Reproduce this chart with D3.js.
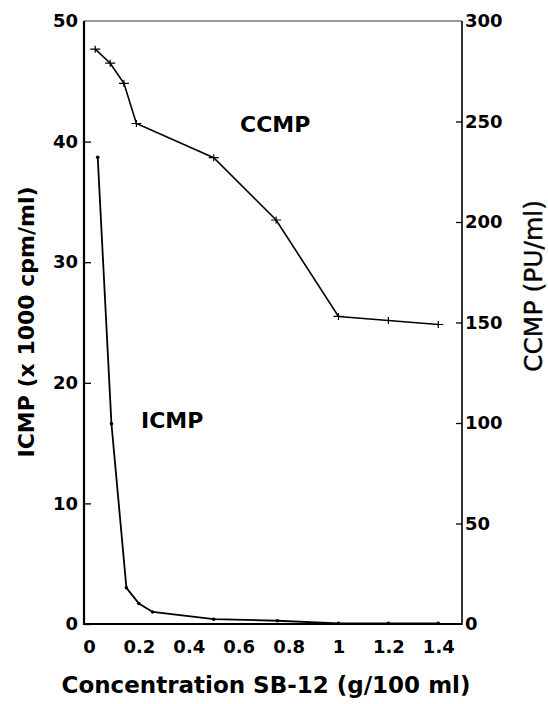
<!DOCTYPE html>
<html><head><meta charset="utf-8">
<script src="https://cdn.jsdelivr.net/npm/d3@7"></script>
<style>
html,body{margin:0;padding:0;background:#fff;}
svg text{font-family:'DejaVu Sans',sans-serif;font-weight:bold;fill:#000;}
</style></head>
<body><svg id="c" width="548" height="704"></svg>
<script>
// Data
const concCCMP = [0.025, 0.085, 0.14, 0.19, 0.5, 0.75, 1.0, 1.2, 1.4];
const ccmpValues = [286, 279, 269, 249, 232, 201, 153, 151, 149];
const concICMP = [0.035, 0.09, 0.15, 0.2, 0.255, 0.5, 0.755, 1.0, 1.2, 1.4];
const icmpValues = [38.7, 16.6, 3.0, 1.7, 1.0, 0.4, 0.27, 0.06, 0.06, 0.06];
const xTicks = [0, 0.2, 0.4, 0.6, 0.8, 1, 1.2, 1.4];
const leftTicks = [0, 10, 20, 30, 40, 50];
const rightTicks = [0, 50, 100, 150, 200, 250, 300];

const svg = d3.select('#c');
const L = 84, R = 462, T = 21, B = 624;
const x = d3.scaleLinear().domain([-0.02, 1.495]).range([L, R]);
const yL = d3.scaleLinear().domain([0, 50]).range([B, T]);
const yR = d3.scaleLinear().domain([0, 300]).range([B, T]);

// Axes
const gl = svg.append('g').attr('transform', `translate(${L},0)`)
  .call(d3.axisLeft(yL).tickValues(leftTicks).tickFormat(d3.format('d'))
    .tickSizeInner(-7).tickSizeOuter(0).tickPadding(6));
const gr = svg.append('g').attr('transform', `translate(${R},0)`)
  .call(d3.axisRight(yR).tickValues(rightTicks).tickFormat(d3.format('d'))
    .tickSizeInner(-6).tickSizeOuter(0).tickPadding(3));
const gb = svg.append('g').attr('transform', `translate(0,${B})`)
  .call(d3.axisBottom(x).tickValues(xTicks).tickFormat(d => d3.format('')(+d.toFixed(1)))
    .tickSize(0).tickPadding(16));
[gl, gr, gb].forEach(g => {
  g.select('.domain').remove();
  g.selectAll('text').attr('font-size', 18).attr('font-family', "'DejaVu Sans',sans-serif").attr('font-weight', 'bold');
  g.selectAll('line').attr('stroke', '#000').attr('stroke-width', 1.3);
});
gl.selectAll('.tick').filter(d => d === 50).select('line').remove();
gr.selectAll('.tick').filter(d => d === 300 || d === 0).select('line').remove();

// Frame
svg.append('line').attr('x1', L).attr('x2', L).attr('y1', T).attr('y2', B + 1).attr('stroke', '#000').attr('stroke-width', 2.2);
svg.append('line').attr('x1', L).attr('x2', R).attr('y1', B).attr('y2', B).attr('stroke', '#000').attr('stroke-width', 2);
svg.append('line').attr('x1', R).attr('x2', R).attr('y1', T).attr('y2', B + 1).attr('stroke', '#000').attr('stroke-width', 1.6);
svg.append('line').attr('x1', L).attr('x2', R).attr('y1', T).attr('y2', T).attr('stroke', '#333').attr('stroke-width', 1.2);

// CCMP curve (right axis)
const ccmp = concCCMP.map((c, i) => [c, ccmpValues[i]]);
svg.append('path').datum(ccmp)
  .attr('d', d3.line().x(d => x(d[0])).y(d => yR(d[1])))
  .attr('fill', 'none').attr('stroke', '#000').attr('stroke-width', 1.6);
svg.append('g').selectAll('path').data(ccmp).join('path')
  .attr('d', d => {
    const cx = x(d[0]), cy = yR(d[1]);
    return `M${cx - 5},${cy}H${cx + 5}M${cx},${cy - 3.5}V${cy + 3.5}`;
  })
  .attr('stroke', '#000').attr('stroke-width', 1.2);

// ICMP curve (left axis)
const icmp = concICMP.map((c, i) => [c, icmpValues[i]]);
svg.append('path').datum(icmp)
  .attr('d', d3.line().x(d => x(d[0])).y(d => yL(d[1])))
  .attr('fill', 'none').attr('stroke', '#000').attr('stroke-width', 1.8);
svg.append('g').selectAll('circle').data(icmp).join('circle')
  .attr('cx', d => x(d[0])).attr('cy', d => yL(d[1])).attr('r', 1.8).attr('fill', '#000');

// In-plot labels
svg.append('text').attr('x', 240).attr('y', 132).attr('font-size', 22).text('CCMP');
svg.append('text').attr('x', 141).attr('y', 428).attr('font-size', 22).text('ICMP');

// Axis titles
svg.append('text').attr('x', 266).attr('y', 693).attr('text-anchor', 'middle').attr('font-size', 23)
  .text('Concentration SB-12 (g/100 ml)');
svg.append('text').attr('transform', 'translate(34,322) rotate(-90)').attr('text-anchor', 'middle').attr('font-size', 22)
  .text('ICMP (x 1000 cpm/ml)');
svg.append('text').attr('transform', 'translate(542,286) rotate(-90)').attr('text-anchor', 'middle')
  .attr('font-size', 25).style('font-weight', 'normal').attr('stroke', '#000').attr('stroke-width', 0.4)
  .text('CCMP (PU/ml)');
</script></body></html>
